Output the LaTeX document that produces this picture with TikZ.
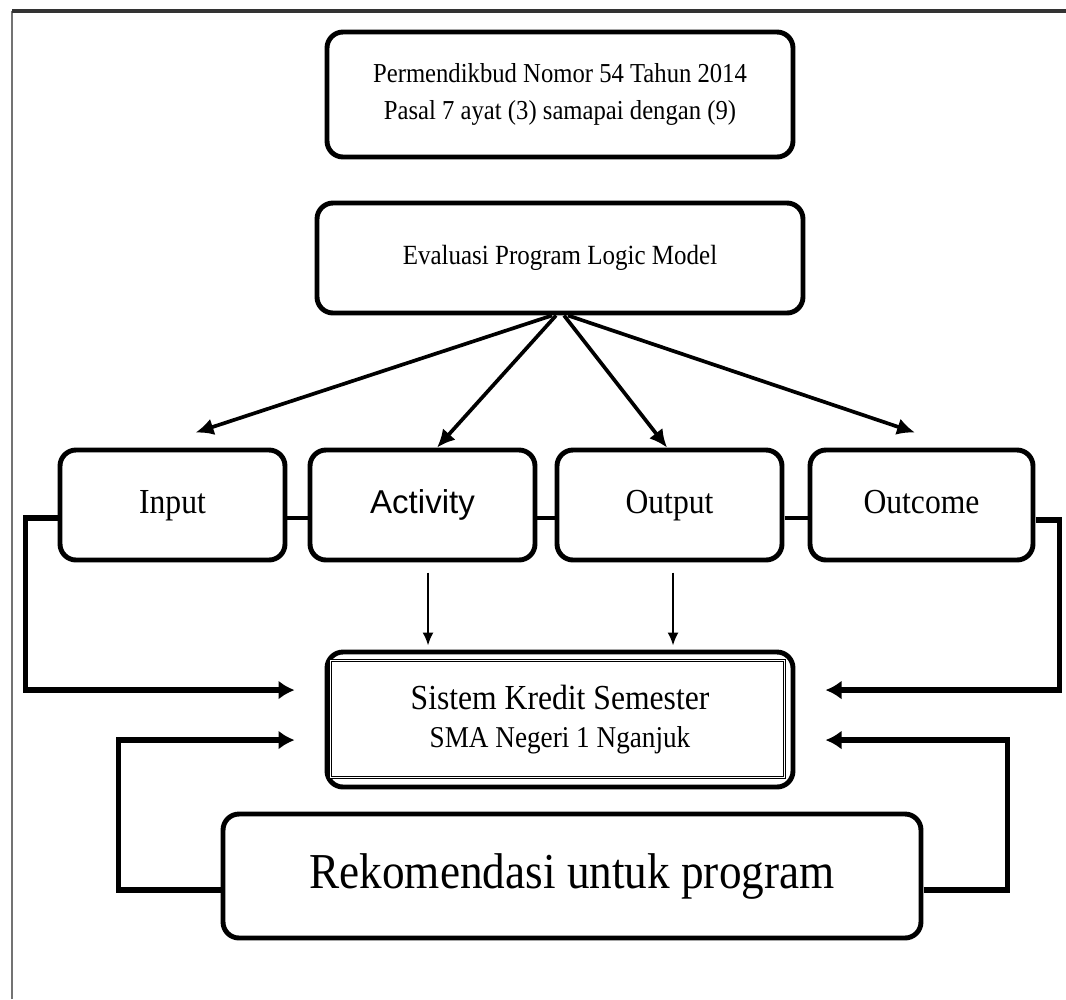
\documentclass[tikz,border=0pt]{standalone}
\usepackage{fontspec}
\setmainfont[FakeStretch=0.9]{Liberation Serif}
\newfontfamily\actfont{Liberation Sans}
\usetikzlibrary{arrows.meta}

\begin{document}
\begin{tikzpicture}[scale=.1,
  box/.style={draw=black, line width=1.4pt, rounded corners=1.6mm, align=center},
  stage/.style={box, minimum width=2.25cm, minimum height=1.1cm, text height=.7em, text depth=.2em, font=\fontsize{10}{12}\selectfont},
  fan/.style={line width=1.05pt, -{Latex[length=1.8mm,width=1.7mm]}},
  feed/.style={line width=1.5pt, -{Latex[length=1.6mm,width=1.9mm]}},
  drop/.style={line width=.6pt, shorten >=.4mm, -{Latex[length=1.3mm,width=1.1mm]}},
  link/.style={line width=1.2pt}]
  \tikzstyle{every node}+=[inner sep=0pt]
  \useasboundingbox (0,0) rectangle (106.6,-99.9);
  \draw [black!55, line width=.6pt] (1.2,-99.9) -- (1.2,-1.1);
  \draw [black!80, line width=.9pt] (1.2,-1.1) -- (106.6,-1.1);
  \node [box, minimum width=4.66cm, minimum height=1.25cm, font=\fontsize{7.8}{10.5}\selectfont] (perm) at (56,-9.45) {Permendikbud Nomor 54 Tahun 2014\\Pasal 7 ayat (3) samapai dengan (9)};
  \node [box, minimum width=4.86cm, minimum height=1.1cm, font=\fontsize{7.9}{9}\selectfont] (eval) at (56,-25.8) {Evaluasi Program Logic Model};
  \node [stage] (input) at (17.25,-50.5) {Input};
  \node [stage, font=\actfont\fontsize{9.4}{11}\selectfont] (act) at (42.25,-50.5) {Activity};
  \node [stage] (out) at (66.95,-50.5) {Output};
  \node [stage, minimum width=2.23cm] (outc) at (92.15,-50.5) {Outcome};
  \node [box, minimum width=4.66cm, minimum height=1.35cm, font=\fontsize{10}{10.8}\selectfont] (sks) at (56,-71.95) {Sistem Kredit Semester\\{\fontsize{8.6}{10.8}\selectfont SMA Negeri 1 Nganjuk}};
  \draw [line width=.35pt, double, double distance=.35pt] ([shift={(.6,1.2)}]sks.south west) rectangle ([shift={(-1.1,-1.1)}]sks.north east);
  \node [box, minimum width=6.98cm, minimum height=1.24cm, font=\fontsize{14.3}{16}\selectfont] (reko) at (57.2,-87.6) {Rekomendasi untuk program};
  \draw [fan] ([shift={(-.8,0)}]eval.south) -- ([shift={(2.3,1.5)}]input.north);
  \draw [fan] ([shift={(-.4,0)}]eval.south) -- ([shift={(1.45,0)}]act.north);
  \draw [fan] ([shift={(.4,0)}]eval.south) -- ([shift={(-.25,0)}]out.north);
  \draw [fan] ([shift={(.8,0)}]eval.south) -- ([shift={(-.65,1.5)}]outc.north);
  \draw [link] ([shift={(0,-1.3)}]input.east) -- ([shift={(0,-1.3)}]act.west);
  \draw [link] ([shift={(0,-1.3)}]act.east) -- ([shift={(0,-1.3)}]out.west);
  \draw [link] ([shift={(0,-1.3)}]out.east) -- ([shift={(0,-1.3)}]outc.west);
  \draw [drop] ([shift={(.55,-1)}]act.south) -- ([shift={(.55,0)}]act.south |- sks.north);
  \draw [drop] ([shift={(.35,-1)}]out.south) -- ([shift={(.35,0)}]out.south |- sks.north);
  \draw [feed] ([shift={(0,-1.3)}]input.west) -- ++(-3.2,0) |- ([shift={(-3,2.95)}]sks.west);
  \draw [feed] ([shift={(0,-1.5)}]outc.east) -- ++(2.4,0) |- ([shift={(3,2.95)}]sks.east);
  \draw [feed] ([shift={(0,-1.4)}]reko.west) -- ++(-10.2,0) |- ([shift={(-3,-2.05)}]sks.west);
  \draw [feed] ([shift={(0,-1.4)}]reko.east) -- ++(8.4,0) |- ([shift={(3,-2.05)}]sks.east);
\end{tikzpicture}
\end{document}
